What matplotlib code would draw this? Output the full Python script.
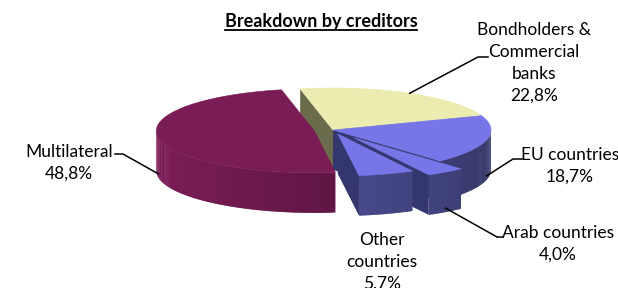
import numpy as np
import matplotlib.pyplot as plt
from matplotlib.patches import Polygon

# data
names = ['Bondholders &\nCommercial\nbanks', 'EU countries', 'Arab countries',
         'Other\ncountries', 'Multilateral']
shares = [22.8, 18.7, 4.0, 5.7, 48.8]
title = 'Breakdown by creditors'

# style / layout
top_colors = ['#ECECB0', '#7676E8', '#7676E8', '#7676E8', '#7A1C56']
side_rgb = [(107, 108, 75), (92, 95, 178), (92, 95, 178), (92, 95, 178), (124, 29, 88)]
face_colors = ['#6B6C4B', '#34366E', '#34366E', '#34366E', '#5A1540']
explode = [0.0, 0.0, 0.23, 0.10, 0.12]
cx, cy, a, b, depth = 333, 130, 158, 42, 40
start = -12

# label layout: text centre x, first line y, leader elbow points
label_pos = [(534, 30), (570, 155), (558, 233), (382, 240), (69, 152)]
elbows = [[(478, 57), (488, 57)], [(513, 159), (522, 159)], [(497, 237), (503, 237)],
          None, [(123, 154), (115, 154)]]
line_h = 22
font = 'Lato'
fs = 12.5

fig = plt.figure(figsize=(6.18, 2.88), dpi=100)
ax = fig.add_axes([0, 0, 1, 1])
ax.set_xlim(0, 618)
ax.set_ylim(288, 0)
ax.axis('off')


def rim(t, ox, oy, down=0):
    t = np.radians(t)
    return cx + ox + a * np.sin(t), cy + oy - b * np.cos(t) + down


def shade(t):
    return 1 - 0.4 * (np.sin(np.radians(t)) + 1) / 2


total = sum(shares)
angles = []
t = start
for v in shares:
    angles.append((t, t + 360 * v / total))
    t += 360 * v / total

faces = []   # (key, polygon, colour)
tops = []
anchors = []
for i, (t0, t1) in enumerate(angles):
    mid = (t0 + t1) / 2
    ox = explode[i] * a * np.sin(np.radians(mid))
    oy = -explode[i] * b * np.cos(np.radians(mid))
    apex = (cx + ox, cy + oy)

    # top face
    ts = np.linspace(t0, t1, max(int(t1 - t0), 2) + 1)
    xs, ys = rim(ts, ox, oy)
    tops.append((np.column_stack([np.r_[apex[0], xs], np.r_[apex[1], ys]]), top_colors[i]))

    # outer curved side, split into strips for the shading
    lo, hi = max(t0, 90), min(t1, 270)
    if hi > lo:
        edges = np.linspace(lo, hi, int(hi - lo) + 2)
        step = edges[1] - edges[0]
        for e0 in edges[:-1]:
            e1 = min(e0 + step * 1.6, hi)
            es = np.linspace(e0, e1, 4)
            xt, yt = rim(es, ox, oy)
            f = shade(e0 + step / 2)
            col = tuple(min(c * f / 255, 1) for c in side_rgb[i])
            poly = np.column_stack([np.r_[xt, xt[::-1]], np.r_[yt, yt[::-1] + depth]])
            faces.append((yt.mean(), poly, col))

    # radial faces seen through the gaps
    for tt, visible in ((t0, 180 < t0 % 360 < 360), (t1, 0 < t1 % 360 < 180)):
        if visible:
            rx, ry = rim(tt, ox, oy)
            poly = [apex, (rx, ry), (rx, ry + depth), (apex[0], apex[1] + depth)]
            faces.append(((apex[1] + ry) / 2, poly, face_colors[i]))

    # leader anchor point
    if 90 < mid % 360 < 270:
        anchors.append(rim(mid, ox, oy, depth * 0.9))
    else:
        anchors.append(rim(mid, ox, oy))

for key, poly, col in sorted(faces, key=lambda f: f[0]):
    ax.add_patch(Polygon(poly, closed=True, fc=col, ec='none', lw=0, zorder=2))
for poly, col in tops:
    ax.add_patch(Polygon(poly, closed=True, fc=col, ec=col, lw=0.4, zorder=3))

# labels
for i, v in enumerate(shares):
    pct = f'{v:.1f}'.replace('.', ',') + '%'
    lines = names[i].split('\n') + [pct]
    x, y = label_pos[i]
    for k, s in enumerate(lines):
        ax.text(x, y + k * line_h, s, ha='center', va='center', fontsize=fs,
                family=font, color='black', zorder=5)
    if elbows[i]:
        pts = [anchors[i]] + elbows[i]
        ax.plot([p[0] for p in pts], [p[1] for p in pts], color='black', lw=1.1, zorder=4)

tt = ax.text(321, 22, title, ha='center', va='center', fontsize=13,
             family=font, fontweight='bold', zorder=5)
fig.canvas.draw()
bb = tt.get_window_extent().transformed(ax.transData.inverted())
ax.plot([bb.x0, bb.x1], [29.5, 29.5], color='black', lw=1.3, zorder=5)

fig.savefig('out.png', dpi=100)
